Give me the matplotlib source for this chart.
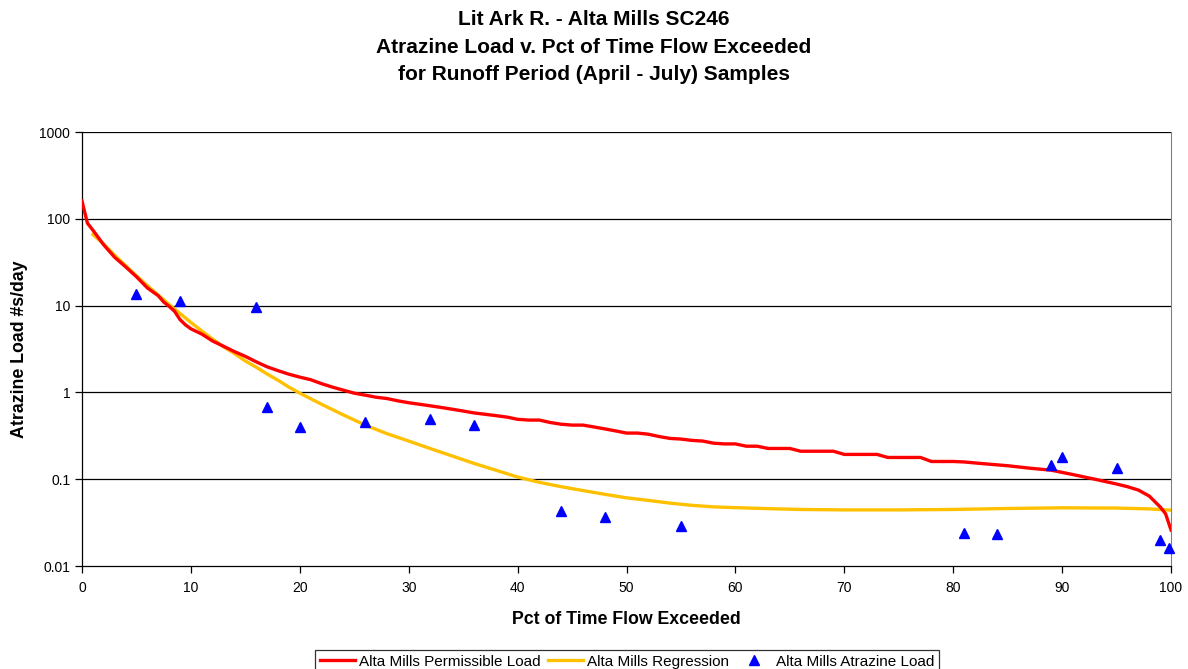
import matplotlib
matplotlib.use("Agg")
import matplotlib.pyplot as plt
from matplotlib.ticker import FixedLocator, NullLocator

plt.rcParams['font.family'] = ['Liberation Sans', 'DejaVu Sans']

# Permissible load (red)
perm_x = [0, 0.5, 1, 2, 3, 4, 5, 6, 7, 7.5, 8, 8.5, 9, 9.5, 10, 11, 12, 13, 14, 15, 16, 17,
          18, 19, 20, 21, 22, 23, 24, 25, 26, 27, 28, 29, 30, 31, 32, 33, 34, 35, 36, 37, 38,
          39, 40, 41, 42, 43, 44, 45, 46, 47, 48, 49, 50, 51, 52, 53, 54, 55, 56, 57, 58, 59,
          60, 61, 62, 63, 64, 65, 66, 67, 68, 69, 70, 71, 72, 73, 74, 75, 76, 77, 78, 79, 80,
          81, 83, 85, 87, 89, 91, 93, 95, 96, 97, 98, 99, 99.5, 100]
perm_y = [160, 89, 74, 50, 36, 28, 21.5, 16, 13, 11, 9.8, 8.6, 6.9, 6.0, 5.4, 4.7, 3.9, 3.4,
          2.95, 2.6, 2.25, 1.97, 1.78, 1.62, 1.5, 1.4, 1.26, 1.15, 1.06, 0.98, 0.93, 0.88,
          0.85, 0.80, 0.76, 0.73, 0.70, 0.67, 0.64, 0.61, 0.58, 0.56, 0.54, 0.52, 0.49, 0.48,
          0.48, 0.45, 0.43, 0.42, 0.42, 0.40, 0.38, 0.36, 0.34, 0.34, 0.33, 0.31, 0.295,
          0.29, 0.28, 0.275, 0.26, 0.255, 0.255, 0.24, 0.24, 0.226, 0.226, 0.226, 0.21, 0.21,
          0.21, 0.21, 0.193, 0.193, 0.193, 0.193, 0.178, 0.178, 0.178, 0.178, 0.16, 0.16, 0.16,
          0.158, 0.15, 0.143, 0.134, 0.127, 0.113, 0.1, 0.088, 0.082, 0.075, 0.064, 0.048,
          0.04, 0.026]

# Regression (yellow)
reg_x = [1, 2, 3, 4, 5, 6, 7, 8, 9, 10, 11, 12, 13, 14, 15, 16, 17, 18, 19, 20, 22, 24, 26,
         28, 30, 32, 34, 36, 38, 40, 42, 44, 46, 48, 50, 52, 54, 56, 58, 60, 63, 66, 70, 75,
         80, 85, 90, 95, 98, 100]
reg_y = [66, 51, 38, 29, 22, 17, 13.2, 10.3, 8.1, 6.4, 5.1, 4.1, 3.35, 2.8, 2.3, 1.95,
         1.63, 1.38, 1.15, 0.98, 0.73, 0.55, 0.42, 0.335, 0.275, 0.225, 0.185, 0.152, 0.127,
         0.106, 0.092, 0.082, 0.074, 0.067, 0.061, 0.057, 0.053, 0.050, 0.048, 0.047, 0.0458,
         0.0448, 0.0443, 0.0443, 0.0448, 0.046, 0.0468, 0.0465, 0.0455, 0.044]

# Observed atrazine load (blue triangles)
obs_x = [5, 9, 16, 17, 20, 26, 32, 36, 44, 48, 55, 81, 84, 89, 90, 95, 99, 99.8]
obs_y = [13.5, 11.3, 9.6, 0.68, 0.40, 0.46, 0.50, 0.42, 0.043, 0.037, 0.029, 0.024, 0.0235,
         0.145, 0.18, 0.135, 0.020, 0.016]

x_ticks = [0, 10, 20, 30, 40, 50, 60, 70, 80, 90, 100]
y_ticks = [0.01, 0.1, 1, 10, 100, 1000]
y_labels = ['0.01', '0.1', '1', '10', '100', '1000']

title_lines = ['Lit Ark R. - Alta Mills SC246',
               'Atrazine Load v. Pct of Time Flow Exceeded',
               'for Runoff Period (April - July) Samples']

W, H = 1188, 669
fig = plt.figure(figsize=(W / 100, H / 100), dpi=100)
ax = fig.add_axes([82 / W, 1 - 566 / H, (1171 - 82) / W, (566 - 132) / H])

ax.set_yscale('log')
ax.set_xlim(0, 100)
ax.set_ylim(0.01, 1000)

for t in y_ticks[1:]:
    ax.axhline(t, color='black', lw=0.9, zorder=1)

l1, = ax.plot(perm_x, perm_y, color='#FF0000', lw=2.4, zorder=3, solid_joinstyle='round',
              label='Alta Mills Permissible Load')
l2, = ax.plot(reg_x, reg_y, color='#FFC000', lw=2.4, zorder=2, label='Alta Mills Regression')
l3, = ax.plot(obs_x, obs_y, linestyle='none', marker='^', color='#0000FF', markersize=7,
              zorder=4, label='Alta Mills Atrazine Load', clip_on=False)

ax.xaxis.set_major_locator(FixedLocator(x_ticks))
ax.yaxis.set_major_locator(FixedLocator(y_ticks))
ax.yaxis.set_minor_locator(NullLocator())
ax.set_yticklabels(y_labels)
ax.tick_params(axis='both', labelsize=10, direction='out', length=5, width=0.9, colors='black')
ax.tick_params(axis='x', pad=6)

ax.spines['top'].set_visible(False)
ax.spines['right'].set_color('#808080')
ax.spines['left'].set_linewidth(0.9)
ax.spines['bottom'].set_linewidth(0.9)

ax.set_xlabel('Pct of Time Flow Exceeded', fontsize=12.8, fontweight='bold', labelpad=11)
ax.set_ylabel('Atrazine Load #s/day', fontsize=12.8, fontweight='bold', labelpad=8)

for line, ypx in zip(title_lines, [25, 53, 80]):
    fig.text(0.5, 1 - ypx / H, line, ha='center', va='baseline', fontsize=15,
             fontweight='bold')

leg = fig.legend(handles=[l1, l2, l3], loc='upper center', bbox_to_anchor=(627 / W, 1 - 650 / H),
                 ncol=3, fontsize=11, frameon=True, fancybox=False, edgecolor='black',
                 handlelength=2.3, handletextpad=0.26, columnspacing=0.5, borderpad=0.3,
                 borderaxespad=0)
leg.get_frame().set_linewidth(0.9)

fig.savefig('out.png', dpi=100)
